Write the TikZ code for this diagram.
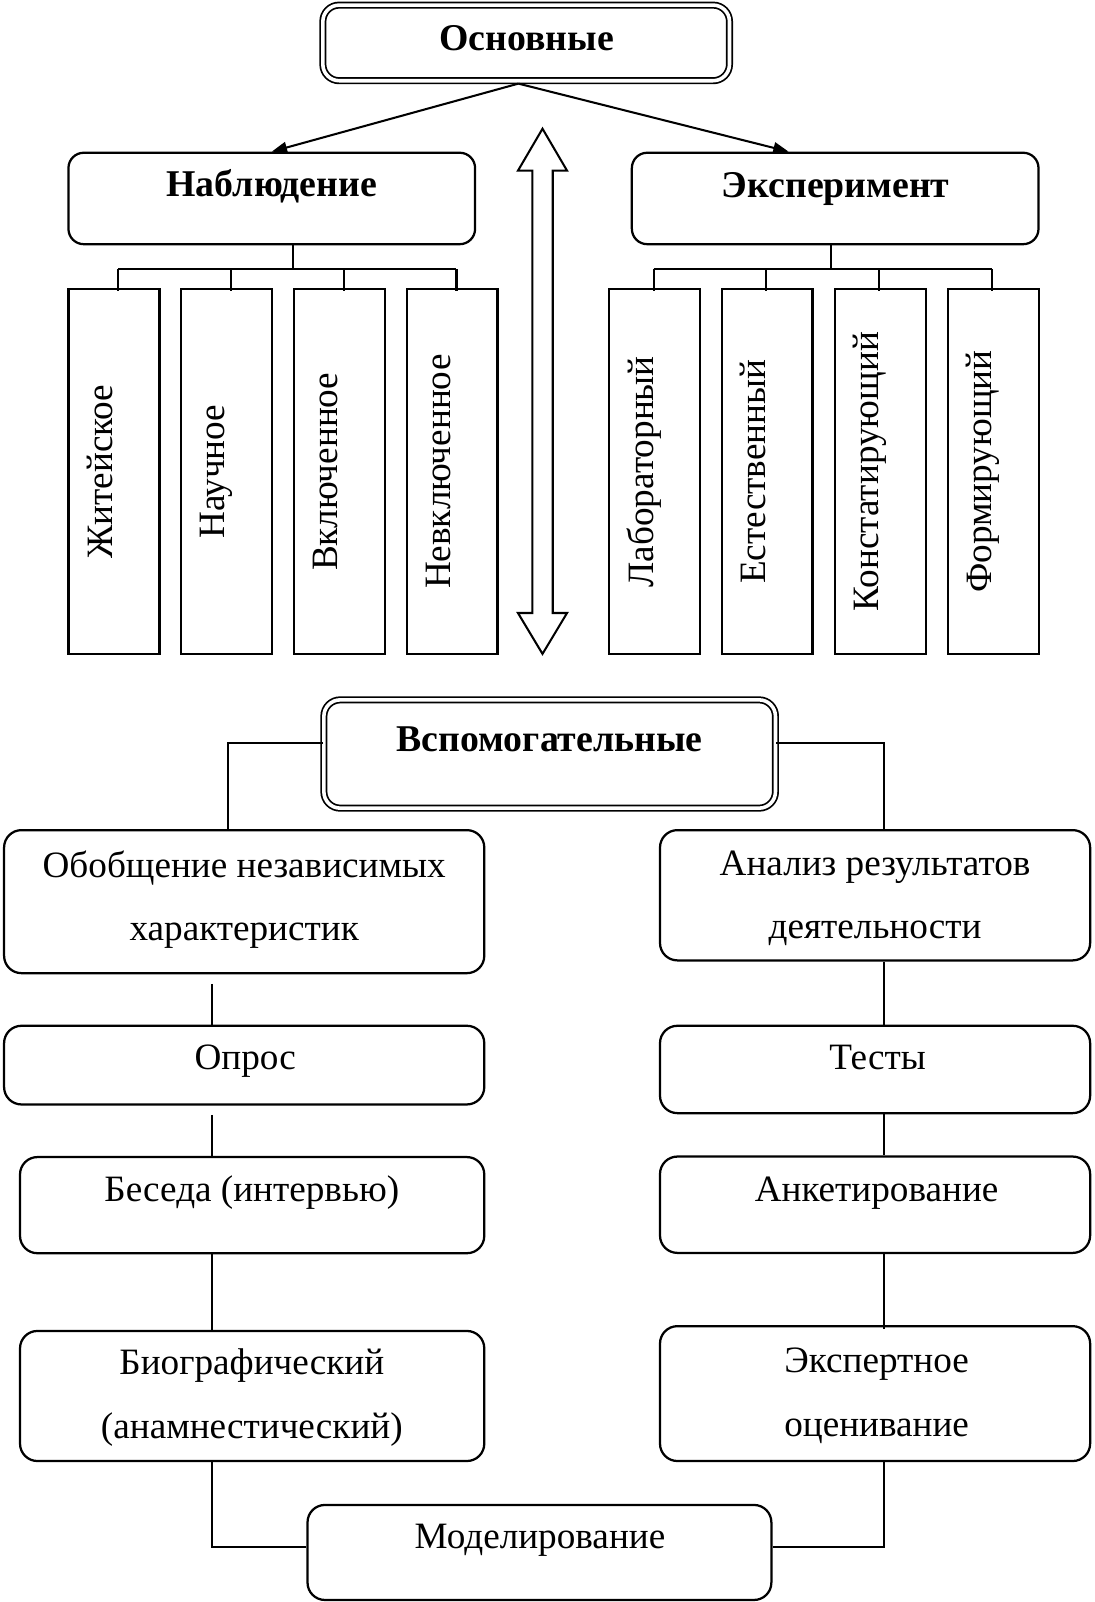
\documentclass[tikz,border=0pt]{standalone}
\usepackage{fontspec}
\setmainfont{Liberation Serif}
\usetikzlibrary{arrows.meta,calc}
\newcommand{\zs}{\rule[-28pt]{0pt}{56pt}}
\begin{document}
\begin{tikzpicture}[x=1pt,y=-1pt,
  every node/.style={font=\fontsize{36.4}{62.5}\selectfont},
  rbox/.style={draw, line width=2.2pt, rounded corners=15pt, inner sep=0pt},
  dbox/.style={draw, double, double distance=3.5pt, line width=1.7pt, rounded corners=16pt, inner sep=0pt},
  vbox/.style={draw, line width=2.2pt, inner sep=0pt, minimum width=89pt, minimum height=357pt},
  lbl/.style={inner sep=0pt, align=center},
  blbl/.style={inner sep=0pt, align=center, font=\fontsize{37}{62.5}\selectfont\bfseries},
  conn/.style={line width=2pt},
  arr/.style={line width=2pt, -{Triangle[length=15pt,width=11pt]}}
]
\useasboundingbox (0,0) rectangle (1071,1568);

% ---------- top part ----------
\node[dbox, minimum width=398pt, minimum height=74pt] (osn) at (515,42) {};
\node[blbl] (tosn) at (515.5,49) {\zs Основные};

\node[rbox, minimum width=398pt, minimum height=89.5pt] (nab) at (266,194.25) {};
\node[blbl] (tnab) at (266,192.5) {\zs Наблюдение};
\node[rbox, minimum width=398pt, minimum height=89.5pt] (exp) at (817.45,194.25) {};
\node[blbl] (texp) at (818,193) {\zs Эксперимент};

\draw[arr] ([xshift=-7.6pt,yshift=-2pt]osn.south) -- (nab.north);
\draw[arr] ([xshift=-7.6pt,yshift=-2pt]osn.south) -- ([xshift=-45.6pt]exp.north);

% vertical boxes (left)
\node[vbox] (v1) at (111.5,461.7) {};
\node[vbox] (v2) at (221.6,461.7) {};
\node[vbox] (v3) at (332.1,461.7) {};
\node[vbox] (v4) at (442.5,461.7) {};
\node[lbl, rotate=90] (tv1) at ([xshift=-1.5pt]v1.center) {\zs Житейское};
\node[lbl, rotate=90] (tv2) at ([xshift=-1.5pt]v2.center) {\zs Научное};
\node[lbl, rotate=90] (tv3) at ([xshift=-1.5pt]v3.center) {\zs Включенное};
\node[lbl, rotate=90] (tv4) at ([xshift=-1.5pt]v4.center) {\zs Невключенное};

% vertical boxes (right)
\node[vbox] (w1) at (640.9,461.7) {};
\node[vbox] (w2) at (750.85,461.7) {};
\node[vbox] (w3) at (861.8,461.7) {};
\node[vbox] (w4) at (972.15,461.7) {};
\node[lbl, rotate=90] (tw1) at ([xshift=-1.5pt]w1.center) {\zs Лабораторный};
\node[lbl, rotate=90] (tw2) at ([xshift=-1.5pt]w2.center) {\zs Естественный};
\node[lbl, rotate=90] (tw3) at ([xshift=-1.5pt]w3.center) {\zs Констатирующий};
\node[lbl, rotate=90] (tw4) at ([xshift=-1.5pt]w4.center) {\zs Формирующий};

% buses
\coordinate (busL) at (286.8,263.7);
\coordinate (busR) at (813.5,263.7);
\foreach \v in {v1,v2,v3,v4} {\coordinate (d\v) at ([xshift=4.3pt]\v.north);}
\foreach \v in {w1,w2,w3,w4} {\coordinate (d\v) at ([xshift=-1.2pt]\v.north);}
\draw[conn] (nab.south -| busL) -- (busL);
\draw[conn] (dv1 |- busL) -- (dv4 |- busL);
\foreach \v in {v1,v2,v3,v4} {\draw[conn] (d\v |- busL) -- (d\v) -- ++(0,3);}
\draw[conn] (exp.south -| busR) -- (busR);
\draw[conn] (dw1 |- busR) -- (dw4 |- busR);
\foreach \v in {w1,w2,w3,w4} {\draw[conn] (d\v |- busR) -- (d\v) -- ++(0,3);}

% double arrow
\draw[line width=2pt, line join=miter]
  (531,126) -- (555,167) -- (541,167) -- (541,600) -- (555,600) -- (531,640)
  -- (507,600) -- (521,600) -- (521,167) -- (507,167) -- cycle;

% ---------- bottom part ----------
\node[dbox, minimum width=442pt, minimum height=106pt] (vsp) at (538,738) {};
\node[blbl] (tvsp) at (538,735.5) {\zs Вспомогательные};

\node[rbox, rounded corners=17pt, minimum width=470pt, minimum height=140pt] (obob) at (239,882.5) {};
\node[lbl] (tobob) at (239,889.75) {\zs Обобщение независимых\\\zs характеристик};
\node[rbox, rounded corners=17pt, minimum width=470pt, minimum height=77pt] (opros) at (239,1042.5) {};
\node[lbl] (topros) at (240,1046.6) {\zs Опрос};
\node[rbox, rounded corners=17pt, minimum width=454.4pt, minimum height=94.1pt] (bes) at (246.8,1179.55) {};
\node[lbl] (tbes) at (246.5,1175.7) {\zs Беседа (интервью)};
\node[rbox, rounded corners=17pt, minimum width=454.4pt, minimum height=127.3pt] (bio) at (246.8,1366.35) {};
\node[lbl] (tbio) at (246.5,1377) {\zs Биографический\\\zs (анамнестический)};

\node[rbox, rounded corners=17pt, minimum width=421pt, minimum height=127.5pt] (anal) at (856.5,876.25) {};
\node[lbl] (tanal) at (856.5,887.8) {\zs Анализ результатов\\\zs деятельности};
\node[rbox, rounded corners=17pt, minimum width=421pt, minimum height=85.5pt] (test) at (856.5,1046.75) {};
\node[lbl] (ttest) at (859,1046.6) {\zs Тесты};
\node[rbox, rounded corners=17pt, minimum width=421pt, minimum height=94.3pt] (ank) at (856.5,1179.15) {};
\node[lbl] (tank) at (858,1175.7) {\zs Анкетирование};
\node[rbox, rounded corners=17pt, minimum width=421pt, minimum height=132pt] (eksp) at (856.5,1364) {};
\node[lbl] (teksp) at (858,1374.3) {\zs Экспертное\\\zs оценивание};

\node[rbox, rounded corners=17pt, minimum width=454pt, minimum height=93pt] (mod) at (528,1519.5) {};
\node[lbl] (tmod) at (528.5,1515.6) {\zs Моделирование};

\coordinate (hl) at (0,727);
\coordinate (hb) at (0,1514);
\coordinate (Lx0) at (223.5,0);
\coordinate (Lx) at (207.7,0);
\coordinate (Rx) at (865.5,0);

\draw[conn] (vsp.west |- hl) -- (Lx0 |- hl) -- (Lx0 |- obob.north);
\draw[conn] (vsp.east |- hl) -- (Rx |- hl) -- (Rx |- anal.north);

\draw[conn] (obob.south -| Lx) ++(0,9.5) -- (opros.north -| Lx);
\draw[conn] (opros.south -| Lx) ++(0,9) -- (bes.north -| Lx);
\draw[conn] (bes.south -| Lx) -- (bio.north -| Lx);
\draw[conn] (bio.south -| Lx) -- (Lx |- hb) -- (mod.west |- hb);

\draw[conn] (anal.south -| Rx) -- (test.north -| Rx);
\draw[conn] (test.south -| Rx) -- (ank.north -| Rx);
\draw[conn] (ank.south -| Rx) -- (eksp.north -| Rx) -- ++(0,4);
\draw[conn] (eksp.south -| Rx) -- (Rx |- hb) -- (mod.east |- hb);
\end{tikzpicture}
\end{document}
